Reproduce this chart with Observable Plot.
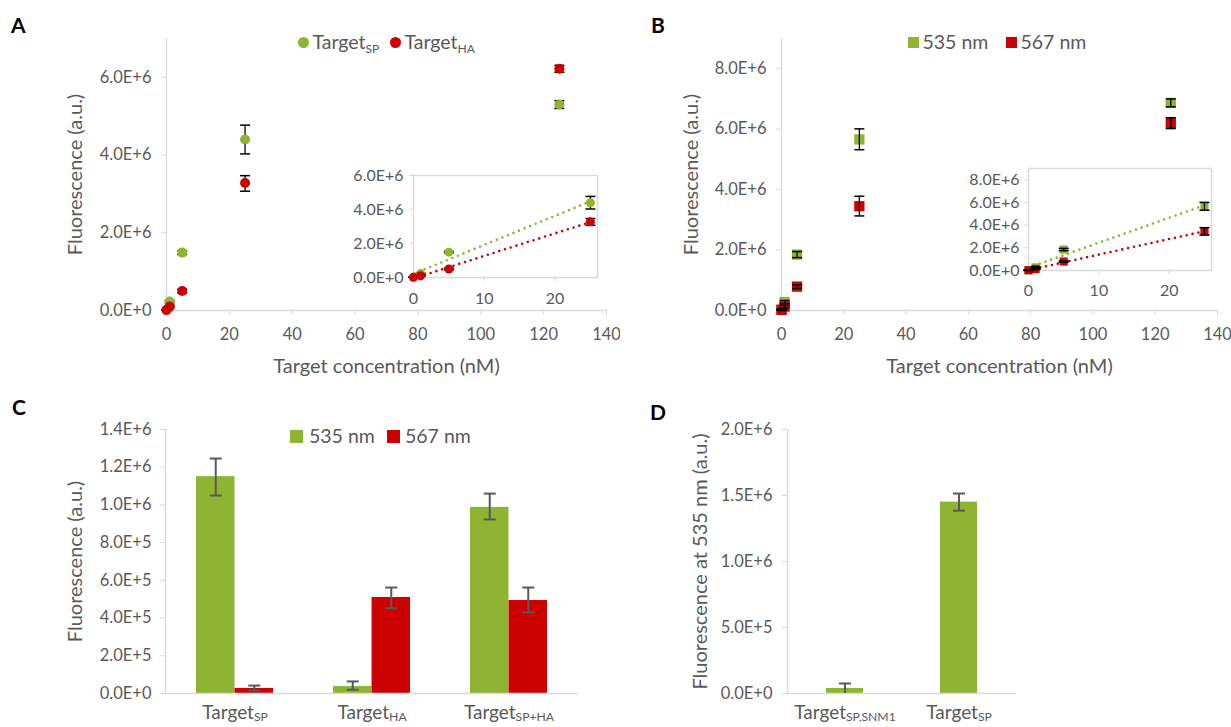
<!DOCTYPE html>
<html>
<head>
<meta charset="utf-8">
<script src="https://cdn.jsdelivr.net/npm/d3@7"></script>
<script src="https://cdn.jsdelivr.net/npm/@observablehq/plot@0.6"></script>
<style>
  html, body { margin: 0; padding: 0; background: #fff; }
  #root { position: relative; width: 1231px; height: 727px; overflow: hidden; font-family: Lato, sans-serif; }
  .panel { position: absolute; }
  .letter { position: absolute; font-weight: bold; font-size: 21px; line-height: 21px; color: #000; z-index: 5; }
  .leg { position: absolute; display: flex; align-items: center; height: 20px; font-size: 19.5px; line-height: 20px; color: #595959; white-space: nowrap; z-index: 5; }
  .leg .sw { display: inline-block; margin-right: 4px; flex: none; }
  .leg sub { font-size: 0.62em; vertical-align: -0.3em; line-height: 0; }
</style>
</head>
<body>
<div id="root">
  <div class="panel" id="pA" style="left:0;top:0;width:620px"></div>
  <div class="panel" id="pB" style="left:620px;top:0;width:611px"></div>
  <div class="panel" id="pAi" style="left:340px;top:160px;width:270px"></div>
  <div class="panel" id="pBi" style="left:950px;top:150px;width:275px"></div>
  <div class="panel" id="pC" style="left:0;top:400px;width:620px"></div>
  <div class="panel" id="pD" style="left:620px;top:400px;width:611px"></div>

  <div class="letter" style="left:11px;top:14px">A</div>
  <div class="letter" style="left:651px;top:14px">B</div>
  <div class="letter" style="left:12px;top:396px">C</div>
  <div class="letter" style="left:650px;top:401px">D</div>

  <div class="leg" style="left:297.5px;top:32px"><span class="sw" style="width:11px;height:11px;border-radius:50%;background:#8fb432"></span><span>Target<sub>SP</sub></span></div>
  <div class="leg" style="left:389.5px;top:32px"><span class="sw" style="width:11px;height:11px;border-radius:50%;background:#cc0000"></span><span>Target<sub>HA</sub></span></div>

  <div class="leg" style="left:907.5px;top:32px"><span class="sw" style="width:11px;height:11px;background:#8fb432"></span><span>535 nm</span></div>
  <div class="leg" style="left:1005.5px;top:32px"><span class="sw" style="width:11px;height:11px;background:#cc0000"></span><span>567 nm</span></div>

  <div class="leg" style="left:290px;top:426px"><span class="sw" style="width:13px;height:13px;background:#8fb432;margin-right:6px"></span><span>535 nm</span></div>
  <div class="leg" style="left:387px;top:426px"><span class="sw" style="width:13px;height:13px;background:#cc0000;margin-right:5px"></span><span>567 nm</span></div>
</div>
<script>
const green = "#8fb432", red = "#cc0000", axisGray = "#d9d9d9", textGray = "#595959";
const tickFS = 16.5, titleFS = 20, catFS = 19, insetFS = 16;

// ---------- Panel A (Target_SP / Target_HA) ----------
const concA  = [0, 1, 5, 25, 125];
const spA    = [0.02e6, 0.23e6, 1.49e6, 4.40e6, 5.30e6];
const spALo  = [0.01e6, 0.20e6, 1.44e6, 4.03e6, 5.20e6];
const spAHi  = [0.03e6, 0.26e6, 1.54e6, 4.77e6, 5.40e6];
const haA    = [0.01e6, 0.10e6, 0.50e6, 3.28e6, 6.22e6];
const haALo  = [0.00e6, 0.07e6, 0.45e6, 3.07e6, 6.13e6];
const haAHi  = [0.02e6, 0.13e6, 0.55e6, 3.47e6, 6.31e6];

// ---------- Panel B (535 nm / 567 nm) ----------
const concB  = [0, 1, 5, 25, 125];
const g535B  = [0.03e6, 0.28e6, 1.85e6, 5.66e6, 6.87e6];
const g535BLo= [0.01e6, 0.23e6, 1.75e6, 5.32e6, 6.74e6];
const g535BHi= [0.05e6, 0.33e6, 1.95e6, 6.01e6, 7.00e6];
const r567B  = [0.02e6, 0.13e6, 0.79e6, 3.45e6, 6.20e6];
const r567BLo= [0.00e6, 0.09e6, 0.73e6, 3.13e6, 6.02e6];
const r567BHi= [0.04e6, 0.17e6, 0.85e6, 3.78e6, 6.38e6];

// ---------- Panel C ----------
const groupsC = ["Target_SP", "Target_HA", "Target_SP+HA"];
const c535    = [1.150e6, 0.037e6, 0.987e6];
const c535Lo  = [1.050e6, 0.020e6, 0.923e6];
const c535Hi  = [1.246e6, 0.064e6, 1.060e6];
const c567    = [0.027e6, 0.509e6, 0.493e6];
const c567Lo  = [0.016e6, 0.452e6, 0.430e6];
const c567Hi  = [0.042e6, 0.562e6, 0.562e6];

// ---------- Panel D ----------
const groupsD = ["Target_SP,SNM1", "Target_SP"];
const d535    = [0.038e6, 1.450e6];
const d535Lo  = [0.000e6, 1.385e6];
const d535Hi  = [0.076e6, 1.515e6];

// tick labels
const ticksAx = [0, 20, 40, 60, 80, 100, 120, 140];
const ticksAy = [0, 2e6, 4e6, 6e6];
const ticksBy = [0, 2e6, 4e6, 6e6, 8e6];
const ticksInsetX = [0, 10, 20];
const ticksCy = [0, 2e5, 4e5, 6e5, 8e5, 1e6, 1.2e6, 1.4e6];
const ticksDy = [0, 5e5, 1e6, 1.5e6, 2e6];

const fmtE = d => {
  if (d === 0) return "0.0E+0";
  const e = Math.floor(Math.log10(d) + 1e-9);
  return (d / Math.pow(10, e)).toFixed(1) + "E+" + e;
};
const capSym = { draw(ctx, size) { const w = Math.sqrt(size / Math.PI); ctx.moveTo(-w, 0); ctx.lineTo(w, 0); } };

const rows = (conc, v, lo, hi, s) => conc.map((x, i) => ({x, y: v[i], lo: lo[i], hi: hi[i], s}));
const dataA = [...rows(concA, spA, spALo, spAHi, "S1"), ...rows(concA, haA, haALo, haAHi, "S2")];
const dataB = [...rows(concB, g535B, g535BLo, g535BHi, "S1"), ...rows(concB, r567B, r567BLo, r567BHi, "S2")];

function subify(svg) {
  svg.querySelectorAll("text").forEach(t => {
    if (t.children.length === 0 && t.textContent.includes("_")) {
      const [a, b] = t.textContent.split("_");
      t.textContent = a;
      const ts = document.createElementNS("http://www.w3.org/2000/svg", "tspan");
      ts.setAttribute("font-size", "0.64em");
      ts.setAttribute("dy", "0.2em");
      ts.textContent = b;
      t.appendChild(ts);
    }
  });
  return svg;
}

function scatter(o) {
  const marks = [];
  if (o.inset) marks.push(Plot.frame({stroke: axisGray, strokeWidth: 1.5}));
  else marks.push(Plot.ruleY([0], {stroke: axisGray, strokeWidth: 1.3}), Plot.ruleX([0], {stroke: axisGray, strokeWidth: 1.3}));
  marks.push(
    Plot.axisX({ticks: o.xTicks, tickSize: o.tick, tickPadding: o.xPad, stroke: axisGray, fill: textGray, fontSize: o.fs, label: null}),
    Plot.axisY({ticks: o.yTicks, tickFormat: fmtE, tickSize: o.tick, tickPadding: o.yPad, stroke: axisGray, fill: textGray, fontSize: o.fs, label: null})
  );
  if (o.inset) marks.push(Plot.linearRegressionY(o.data, {x: "x", y: "y", stroke: "s", ci: 0, strokeWidth: 2.6, strokeDasharray: "0,6", strokeLinecap: "round"}));
  const err = [
    Plot.ruleX(o.data, {x: "x", y1: "lo", y2: "hi", stroke: "#000", strokeWidth: 1.3}),
    Plot.dot(o.data, {x: "x", y: "lo", r: o.capR, symbol: capSym, stroke: "#000", strokeWidth: 1.5, fill: "none"}),
    Plot.dot(o.data, {x: "x", y: "hi", r: o.capR, symbol: capSym, stroke: "#000", strokeWidth: 1.5, fill: "none"})
  ];
  const pts = Plot.dot(o.data, {x: "x", y: "y", r: o.r, symbol: o.symbol, fill: "s", stroke: "none"});
  if (o.errOnTop) marks.push(pts, ...err); else marks.push(...err, pts);
  if (o.xTitle) marks.push(Plot.text([o.xTitle], {text: d => d, frameAnchor: "bottom", dy: 56, lineAnchor: "middle", textAnchor: "middle", fontSize: titleFS, fill: textGray}));
  if (o.yTitle) marks.push(Plot.text([o.yTitle], {text: d => d, frameAnchor: "left", dx: -o.yTitleOff, rotate: -90, lineAnchor: "middle", textAnchor: "middle", fontSize: titleFS, fill: textGray}));
  return Plot.plot({
    width: o.width, height: o.height,
    marginLeft: o.ml, marginRight: o.mr, marginTop: o.mt, marginBottom: o.mb,
    style: {fontFamily: "Lato, sans-serif", background: o.inset ? "transparent" : "white", overflow: "visible"},
    x: {domain: o.xDomain},
    y: {domain: o.yDomain},
    color: {domain: ["S1", "S2"], range: [green, red]},
    marks
  });
}

document.getElementById("pA").append(scatter({
  data: dataA, width: 620, height: 385, ml: 166, mr: 14, mt: 38, mb: 75,
  xDomain: [0, 140], yDomain: [0, 7e6], xTicks: ticksAx, yTicks: ticksAy,
  tick: 5, xPad: 13, yPad: 10, fs: tickFS, r: 5, capR: 5, symbol: "circle",
  xTitle: "Target concentration (nM)", yTitle: "Fluorescence (a.u.)", yTitleOff: 91
}));
document.getElementById("pB").append(scatter({
  data: dataB, width: 611, height: 385, ml: 161, mr: 14, mt: 38, mb: 75, errOnTop: true,
  xDomain: [0, 140], yDomain: [0, 9e6], xTicks: ticksAx, yTicks: ticksBy,
  tick: 5, xPad: 13, yPad: 10, fs: tickFS, r: 5.8, capR: 5, symbol: "square",
  xTitle: "Target concentration (nM)", yTitle: "Fluorescence (a.u.)", yTitleOff: 90
}));
document.getElementById("pAi").append(scatter({
  data: dataA.filter(d => d.x <= 25), inset: true, width: 270, height: 150, ml: 73, mr: 13, mt: 15, mb: 33,
  xDomain: [0, 26], yDomain: [0, 6e6], xTicks: ticksInsetX, yTicks: ticksAy,
  tick: 4, xPad: 11, yPad: 6, fs: insetFS, r: 4.5, capR: 5, symbol: "circle"
}));
document.getElementById("pBi").append(scatter({
  data: dataB.filter(d => d.x <= 25), inset: true, width: 275, height: 155, ml: 78, mr: 14, mt: 18, mb: 35, errOnTop: true,
  xDomain: [0, 26], yDomain: [0, 9e6], xTicks: ticksInsetX, yTicks: ticksBy,
  tick: 4, xPad: 10, yPad: 5, fs: insetFS, r: 4.6, capR: 5, symbol: "square"
}));

// ---------- Panel C plot ----------
const cRows535 = groupsC.map((g, i) => ({g, v: c535[i], lo: c535Lo[i], hi: c535Hi[i]}));
const cRows567 = groupsC.map((g, i) => ({g, v: c567[i], lo: c567Lo[i], hi: c567Hi[i]}));
const cW = 620, cML = 165, cMR = 42, cPad = 0.44;
const bwC = (cW - cML - cMR) / groupsC.length * (1 - cPad);
const errMarks = (data, dx) => [
  Plot.ruleX(data, {x: "g", y1: "lo", y2: "hi", dx, stroke: textGray, strokeWidth: 2}),
  Plot.dot(data.filter(d => d.lo > 1e4), {x: "g", y: "lo", dx, r: 6, symbol: capSym, stroke: textGray, strokeWidth: 2, fill: "none"}),
  Plot.dot(data, {x: "g", y: "hi", dx, r: 6, symbol: capSym, stroke: textGray, strokeWidth: 2, fill: "none"})
];
document.getElementById("pC").append(subify(Plot.plot({
  width: cW, height: 327, marginLeft: cML, marginRight: cMR, marginTop: 29, marginBottom: 34,
  style: {fontFamily: "Lato, sans-serif", background: "white", overflow: "visible"},
  x: {domain: groupsC, paddingInner: cPad, paddingOuter: cPad / 2},
  y: {domain: [0, 1.4e6]},
  marks: [
    Plot.barY(cRows535, {x: "g", y: "v", fill: green, insetRight: bwC / 2}),
    Plot.barY(cRows567, {x: "g", y: "v", fill: red, insetLeft: bwC / 2}),
    Plot.ruleY([0], {stroke: axisGray, strokeWidth: 1.5}),
    Plot.frame({anchor: "left", stroke: axisGray, strokeWidth: 1.5}),
    ...errMarks(cRows535, -bwC / 4),
    ...errMarks(cRows567, bwC / 4),
    Plot.axisY({ticks: ticksCy, tickFormat: fmtE, tickSize: 5, tickPadding: 9, stroke: axisGray, fill: textGray, fontSize: tickFS, label: null}),
    Plot.axisX({tickSize: 0, tickPadding: 12, fill: textGray, fontSize: catFS, label: null}),
    Plot.text(["Fluorescence (a.u.)"], {text: d => d, frameAnchor: "left", dx: -90, rotate: -90, lineAnchor: "middle", textAnchor: "middle", fontSize: titleFS, fill: textGray})
  ]
})));

// ---------- Panel D plot ----------
const dRows = groupsD.map((g, i) => ({g, v: d535[i], lo: d535Lo[i], hi: d535Hi[i]}));
const dPad = 0.677;
document.getElementById("pD").append(subify(Plot.plot({
  width: 611, height: 327, marginLeft: 167, marginRight: 215, marginTop: 29, marginBottom: 34,
  style: {fontFamily: "Lato, sans-serif", background: "white", overflow: "visible"},
  x: {domain: groupsD, paddingInner: dPad, paddingOuter: dPad / 2},
  y: {domain: [0, 2e6]},
  marks: [
    Plot.barY(dRows, {x: "g", y: "v", fill: green}),
    Plot.ruleY([0], {stroke: axisGray, strokeWidth: 1.5}),
    Plot.frame({anchor: "left", stroke: axisGray, strokeWidth: 1.5}),
    ...errMarks(dRows, 0),
    Plot.axisY({ticks: ticksDy, tickFormat: fmtE, tickSize: 5, tickPadding: 10, stroke: axisGray, fill: textGray, fontSize: tickFS, label: null}),
    Plot.axisX({tickSize: 0, tickPadding: 12, fill: textGray, fontSize: catFS, label: null}),
    Plot.text(["Fluorescence at 535 nm (a.u.)"], {text: d => d, frameAnchor: "left", dx: -87, rotate: -90, lineAnchor: "middle", textAnchor: "middle", fontSize: titleFS, fill: textGray})
  ]
})));
</script>
</body>
</html>
